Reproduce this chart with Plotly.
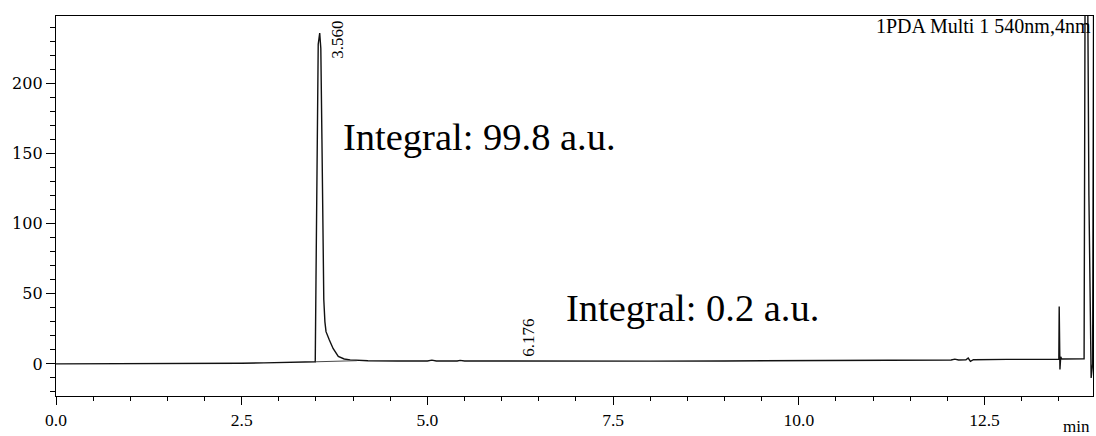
import plotly.graph_objects as go

# ---- data ----
time_min = [0.00, 0.50, 1.00, 1.50, 2.00, 2.50, 2.80, 3.10, 3.30, 3.45, 3.49,
            3.50, 3.515, 3.53, 3.55, 3.565, 3.58, 3.595, 3.605, 3.62, 3.635,
            3.68, 3.73, 3.80, 3.88, 3.96, 4.20, 4.60, 5.00, 5.06, 5.12, 5.40,
            5.44, 5.50, 6.00, 6.17, 6.20, 7.00, 8.00, 9.00, 10.00, 11.00,
            11.80, 12.05, 12.10, 12.15, 12.25, 12.28, 12.31, 12.35, 12.80,
            13.30, 13.50, 13.505, 13.51, 13.515, 13.525, 13.54, 13.84,
            13.855, 13.885, 13.905, 13.935, 13.955, 13.97]
signal_au = [0.0, 0.0, 0.1, 0.2, 0.3, 0.5, 0.7, 0.9, 1.1, 1.3, 1.5,
             60, 180, 228, 236, 225, 160, 80, 46, 30, 23,
             17, 11, 5.3, 3.5, 2.9, 2.3, 2.1, 2.1, 2.7, 2.1, 2.1,
             2.5, 2.1, 2.0, 2.0, 2.3, 2.1, 2.0, 2.1, 2.2, 2.4,
             2.6, 2.8, 3.4, 2.8, 2.9, 4.2, 1.8, 3.0, 3.2,
             3.4, 3.4, 41, 12, -4, 5, 3.5, 3.6,
             300, 300, 120, -10, 0, 300]

# integration baseline drawn under the main peak
base_t = [3.49, 4.05]
base_v = [1.5, 2.3]

peak_times = ["3.560", "6.176"]
peak_label_x = [3.79, 6.36]
peak_label_y = [231, 19]

integral_texts = ["Integral: 99.8 a.u.", "Integral: 0.2 a.u."]
integral_x = [3.84, 6.84]
integral_y = [162, 40]

x_ticks = [0.0, 2.5, 5.0, 7.5, 10.0, 12.5]
x_tick_text = ["0.0", "2.5", "5.0", "7.5", "10.0", "12.5"]
y_ticks = [0, 50, 100, 150, 200]
y_tick_text = ["0", "50", "100", "150", "200"]

SERIF = "Liberation Serif, Times New Roman, serif"

fig = go.Figure()
fig.add_trace(go.Scatter(x=time_min, y=signal_au, mode="lines",
                         line=dict(color="#111111", width=1.4),
                         hoverinfo="skip", showlegend=False))
fig.add_trace(go.Scatter(x=base_t, y=base_v, mode="lines",
                         line=dict(color="#333333", width=0.9),
                         hoverinfo="skip", showlegend=False))

for txt, xx, yy in zip(peak_times, peak_label_x, peak_label_y):
    fig.add_annotation(x=xx, y=yy, text=txt, textangle=-90, showarrow=False,
                       xanchor="center", yanchor="middle",
                       font=dict(family=SERIF, size=17, color="black"))

for txt, xx, yy in zip(integral_texts, integral_x, integral_y):
    fig.add_annotation(x=xx, y=yy, text=txt, showarrow=False,
                       xanchor="left", yanchor="middle",
                       font=dict(family=SERIF, size=38.5, color="black"))

fig.add_annotation(x=1.0, y=241, xref="paper", text="1PDA Multi 1 540nm,4nm",
                   showarrow=False, xanchor="right", yanchor="middle",
                   font=dict(family=SERIF, size=20, color="black"))
fig.add_annotation(x=0.984, y=-0.079, xref="paper", yref="paper", text="min",
                   showarrow=False, xanchor="center", yanchor="middle",
                   font=dict(family=SERIF, size=17, color="black"))

fig.update_xaxes(range=[0, 13.96], tickvals=x_ticks, ticktext=x_tick_text,
                 ticks="outside", ticklen=8, tickwidth=1.2, tickcolor="black",
                 minor=dict(dtick=0.5, tick0=0, ticks="outside", ticklen=4,
                            tickwidth=1, tickcolor="black"),
                 showline=True, linecolor="black", linewidth=1.3, mirror=True,
                 showgrid=False, zeroline=False,
                 tickfont=dict(family=SERIF, size=17.5, color="black"))
fig.update_yaxes(range=[-22.9, 248.2], tickvals=y_ticks, ticktext=y_tick_text,
                 ticks="outside", ticklen=9, tickwidth=1.2, tickcolor="black",
                 minor=dict(dtick=10, tick0=0, ticks="outside", ticklen=5,
                            tickwidth=1, tickcolor="black"),
                 showline=True, linecolor="black", linewidth=1.3, mirror=True,
                 showgrid=False, zeroline=False,
                 tickfont=dict(family="DejaVu Serif, serif", size=16, color="black"))

fig.update_layout(width=1096, height=436,
                  margin=dict(l=56, r=3, t=16, b=40),
                  paper_bgcolor="white", plot_bgcolor="white",
                  showlegend=False)

fig.write_html("out.html")
